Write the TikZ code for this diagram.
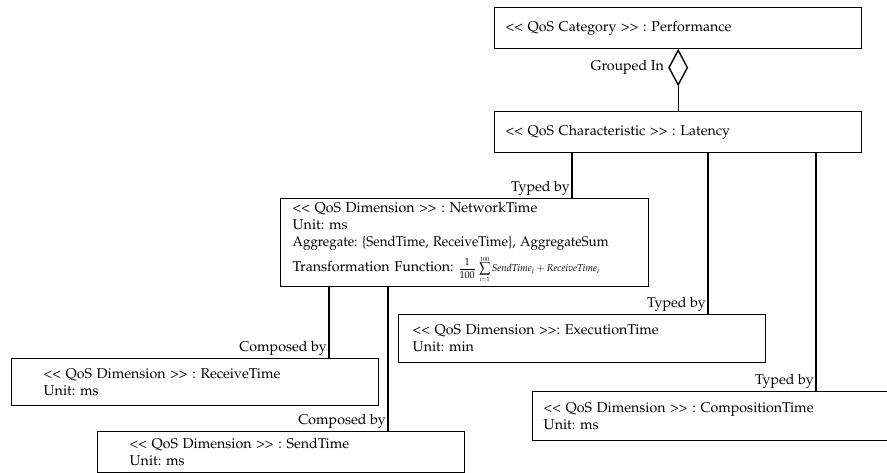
\documentclass[tikz,border=0pt]{standalone}
\usepackage[T1]{fontenc}
\usepackage{mathpazo}
\usetikzlibrary{shapes.geometric}
% stereotype brackets, kept apart so the font does not join them into guillemets
\newcommand{\stereo}[1]{\mbox{\textless}\mbox{\textless} #1 \mbox{\textgreater}\mbox{\textgreater}}
\begin{document}
\frenchspacing
\begin{tikzpicture}[x=1pt,y=-1pt,
  every node/.style={font=\fontsize{14.2}{17}\selectfont},
  umlbox/.style={draw, line width=1.4pt, anchor=north west, inner ysep=0pt,
    align=left},
  link/.style={line width=1.4pt},
  role/.style={anchor=south east, inner sep=2pt},
  aggdiamond/.style={draw, shape=diamond, line width=1.4pt, inner sep=0pt,
    minimum width=19pt, minimum height=35pt, fill=white},
]
\useasboundingbox (0,0) rectangle (887,473);
\clip (0,0) rectangle (887,473);

% classifier boxes
\node[umlbox, inner xsep=11pt, text width=345pt, minimum height=41pt] (perf) at (494,7)
  {\stereo{QoS Category} : Performance};
\node[umlbox, inner xsep=11pt, text width=345pt, minimum height=41pt] (lat) at (494,111)
  {\stereo{QoS Characteristic} : Latency};
\node[umlbox, inner xsep=12pt, text width=344pt, minimum height=88pt] (net) at (280,198)
  {\stereo{QoS Dimension} : NetworkTime\\
   Unit: ms\\
   \scalebox{0.94}[1]{Aggregate: \textbraceleft SendTime, ReceiveTime\textbraceright, AggregateSum}\\[4pt]
   Transformation Function: {\fontsize{10}{11}\selectfont
   $\displaystyle\frac{1}{100}\,\sum\limits_{\scriptscriptstyle i=1}^{\scriptscriptstyle 100}
   \mathit{SendTime}_i+\mathit{ReceiveTime}_i$}};
\node[umlbox, inner xsep=14pt, text width=339pt, minimum height=48pt] (exe) at (398,314)
  {\stereo{QoS Dimension}: ExecutionTime\\ Unit: min};
\node[umlbox, inner xsep=11pt, text width=345pt, minimum height=49pt] (comp) at (532,391)
  {\stereo{QoS Dimension} : CompositionTime\\ Unit: ms};
\node[umlbox, inner xsep=32pt, text width=303pt, minimum height=47pt] (recv) at (11,358)
  {\stereo{QoS Dimension} : ReceiveTime\\ Unit: ms};
\node[umlbox, inner xsep=32pt, text width=303pt, minimum height=41pt] (send) at (97,431)
  {\stereo{QoS Dimension} : SendTime\\ Unit: ms};

% aggregation between category and characteristic
\node[aggdiamond, anchor=north] (agg) at (perf.south) {};
\draw[link] (agg.south) -- (lat.north);
\node[anchor=east, inner sep=0pt, xshift=-4pt] (grp) at (agg.west) {Grouped In};

% typing links from the characteristic
\coordinate (xa) at (572,0);
\coordinate (xb) at (708,0);
\coordinate (xc) at (816,0);
\draw[link] (lat.south -| xa) -- (net.north -| xa);
\draw[link] (lat.south -| xb) -- (exe.north -| xb);
\draw[link] (lat.south -| xc) -- (comp.north -| xc);
\node[role] (ta) at (net.north -| xa) {Typed by};
\node[role] (tb) at (exe.north -| xb) {Typed by};
\node[role] (tc) at (comp.north -| xc) {Typed by};

% composition links from the network time
\coordinate (xd) at (329,0);
\coordinate (xe) at (388,0);
\draw[link] (net.south -| xd) -- (recv.north -| xd);
\draw[link] (net.south -| xe) -- (send.north -| xe);
\node[role] (ca) at (recv.north -| xd) {Composed by};
\node[role] (cb) at (send.north -| xe) {Composed by};
\end{tikzpicture}
\end{document}
